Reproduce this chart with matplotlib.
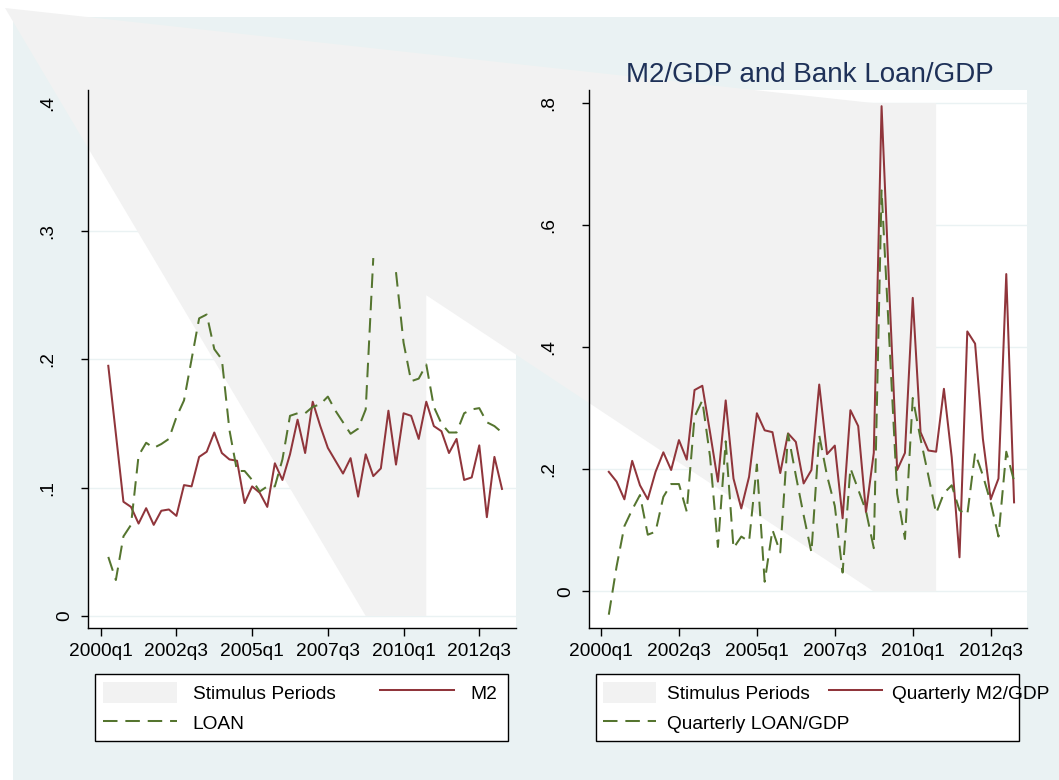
import numpy as np
import pandas as pd
import matplotlib
matplotlib.use("Agg")
import matplotlib.pyplot as plt
from matplotlib.patches import Polygon, Rectangle, Patch
from matplotlib.lines import Line2D
from matplotlib.transforms import ScaledTranslation

plt.rcParams['font.family'] = ['Liberation Sans', 'DejaVu Sans']

# quarterly data, 2000q2 .. 2013q2
quarters = [str(p).lower() for p in pd.period_range("2000Q2", "2013Q2", freq="Q")]

# left panel: growth rates
m2 = [0.195, 0.142, 0.089, 0.085, 0.072, 0.084, 0.071, 0.082, 0.083, 0.078,
      0.102, 0.101, 0.124, 0.128, 0.143, 0.127, 0.122, 0.121, 0.088, 0.101,
      0.096, 0.085, 0.119, 0.106, 0.126, 0.153, 0.127, 0.167, 0.148, 0.131,
      0.121, 0.111, 0.123, 0.093, 0.126, 0.109, 0.115, 0.160, 0.118, 0.158,
      0.156, 0.138, 0.167, 0.148, 0.144, 0.127, 0.138, 0.106, 0.108, 0.133,
      0.077, 0.124, 0.099]
loan = [0.046, 0.028, 0.062, 0.071, 0.125, 0.135, 0.131, 0.134, 0.138, 0.155,
        0.168, 0.200, 0.232, 0.235, 0.208, 0.200, 0.145, 0.113, 0.113, 0.106,
        0.097, 0.101, 0.101, 0.122, 0.156, 0.158, 0.158, 0.163, 0.165, 0.171,
        0.160, 0.151, 0.142, 0.146, 0.161, 0.279, np.nan, np.nan, 0.268, 0.213,
        0.183, 0.185, 0.196, 0.163, 0.150, 0.143, 0.143, 0.158, 0.161, 0.162,
        0.151, 0.148, 0.143]

# right panel: quarterly ratios
m2_gdp = [0.196, 0.180, 0.151, 0.214, 0.174, 0.151, 0.196, 0.228, 0.199, 0.248,
          0.216, 0.330, 0.337, 0.260, 0.180, 0.313, 0.185, 0.136, 0.188, 0.292,
          0.264, 0.261, 0.194, 0.259, 0.245, 0.177, 0.199, 0.339, 0.225, 0.239,
          0.120, 0.297, 0.271, 0.130, 0.227, 0.795, 0.490, 0.199, 0.227, 0.481,
          0.261, 0.231, 0.229, 0.332, 0.220, 0.056, 0.426, 0.406, 0.250, 0.151,
          0.185, 0.520, 0.146]
loan_gdp = [-0.038, 0.041, 0.107, 0.134, 0.158, 0.093, 0.098, 0.155, 0.176, 0.176,
            0.131, 0.286, 0.313, 0.220, 0.073, 0.246, 0.071, 0.090, 0.082, 0.208,
            0.016, 0.101, 0.064, 0.258, 0.190, 0.125, 0.064, 0.256, 0.190, 0.140,
            0.031, 0.202, 0.167, 0.132, 0.071, 0.657, 0.410, 0.160, 0.086, 0.317,
            0.250, 0.190, 0.128, 0.161, 0.174, 0.133, 0.126, 0.227, 0.190, 0.146,
            0.090, 0.229, 0.181]

xtick_labels = ["2000q1", "2002q3", "2005q1", "2007q3", "2010q1", "2012q3"]
left_yticks = [0, 0.1, 0.2, 0.3, 0.4]
left_ylabels = ["0", ".1", ".2", ".3", ".4"]
right_yticks = [0, 0.2, 0.4, 0.6, 0.8]
right_ylabels = ["0", ".2", ".4", ".6", ".8"]

stim_start, stim_end = "2008q4", "2010q4"
stim_top_left = 0.25
stim_top_right = 0.8


def qpos(label):
    return (int(label[:4]) - 2000) * 4 + int(label[-1]) - 1


x = [qpos(q) for q in quarters]

RED = "#90353B"
GREEN = "#55752F"
SHADE = "#F2F2F2"
BG = "#EAF2F3"
FS = 13.8

W, H = 1059, 780
fig = plt.figure(figsize=(W / 100, H / 100), dpi=100)
fig.patch.set_facecolor("white")
fig.add_artist(Rectangle((13 / W, 0), 1 - 13 / W, 1 - 17 / H, transform=fig.transFigure,
                         facecolor=BG, edgecolor="none", zorder=-1))

axl = fig.add_axes([88 / W, 1 - 628 / H, 428 / W, 538 / H])
axr = fig.add_axes([589 / W, 1 - 628 / H, 438 / W, 538 / H])

panels = [
    (axl, m2, loan, left_yticks, left_ylabels, (-1.68, 54.85), (-0.0094, 0.410)),
    (axr, m2_gdp, loan_gdp, right_yticks, right_ylabels, (-1.54, 54.66), (-0.0598, 0.8215)),
]

for ax, red, green, yt, yl, xl, ylim in panels:
    ax.set_facecolor("white")
    ax.set_axisbelow(True)
    ax.plot(x, red, color=RED, lw=1.45, zorder=2)
    ax.plot(x, green, color=GREEN, lw=1.45, ls=(0, (7.2, 3.9)), zorder=2.1)
    ax.set_xlim(*xl)
    ax.set_ylim(*ylim)
    ax.set_xticks([qpos(t) for t in xtick_labels])
    ax.set_xticklabels(xtick_labels, fontsize=FS)
    ax.set_yticks(yt)
    ax.set_yticklabels([])
    ax.grid(axis="y", color=BG, lw=1.0)
    ax.grid(axis="x", visible=False)
    ax.tick_params(axis="x", length=6, width=1, pad=5)
    ax.tick_params(axis="y", length=5, width=1)
    for s in ["top", "right"]:
        ax.spines[s].set_visible(False)
    for s in ["left", "bottom"]:
        ax.spines[s].set_linewidth(1.0)
    for v, lab in zip(yt, yl):
        dx = 16.9 if lab == "0" else 28.8
        tr = ax.get_yaxis_transform() + ScaledTranslation(-dx / 72, 0, fig.dpi_scale_trans)
        ax.text(0, v, lab, transform=tr, rotation=90, ha="center", va="center",
                fontsize=FS, clip_on=False)

# stimulus shading (rendered as one stretched polygon, as in the original)
s0, s1 = qpos(stim_start), qpos(stim_end)
inv = fig.transFigure.inverted()


def to_fig(ax, px, py):
    return inv.transform(ax.transData.transform((px, py)))


verts = [(5 / W, 1 - 8 / H),
         to_fig(axr, s0, stim_top_right), to_fig(axr, s1, stim_top_right),
         to_fig(axr, s1, 0), to_fig(axr, s0, 0),
         to_fig(axl, s1, stim_top_left), to_fig(axl, s1, 0), to_fig(axl, s0, 0)]

pl = Polygon(verts, closed=True, transform=fig.transFigure, facecolor=SHADE,
             edgecolor="none", zorder=1)
axl.add_artist(pl)
pl.set_clip_on(False)
pr = Polygon(verts, closed=True, transform=fig.transFigure, facecolor=SHADE,
             edgecolor="none", zorder=1)
axr.add_artist(pr)

# legends
patch_h = Patch(facecolor=SHADE, edgecolor="none")
red_h = Line2D([], [], color=RED, lw=1.45)
green_h = Line2D([], [], color=GREEN, lw=1.45, ls=(0, (7.2, 3.9)))

legend_specs = [
    (103, 95, 413, ["Stimulus Periods", "M2"], "LOAN", 3.85, 0.83, 2.34),
    (603, 596, 423, ["Stimulus Periods", "Quarterly M2/GDP"], "Quarterly LOAN/GDP", 2.76, 0.57, 0.99),
]
for hx, bx, bw, row1, row2, hl, htp, cs in legend_specs:
    fig.add_artist(Rectangle((bx / W, 1 - 741 / H), bw / W, 67 / H, transform=fig.transFigure,
                             facecolor="white", edgecolor="black", lw=1.0, zorder=4))
    common = dict(loc="center left", frameon=False, borderpad=0, borderaxespad=0,
                  handlelength=hl, handletextpad=htp, columnspacing=cs,
                  handleheight=1.31, fontsize=FS)
    fig.legend([patch_h, red_h], row1, ncol=2, bbox_to_anchor=(hx / W, 1 - 692.5 / H), **common)
    fig.legend([green_h], [row2], bbox_to_anchor=(hx / W, 1 - 723 / H), **common)

fig.text(809.5 / W, 1 - 81.7 / H, "M2/GDP and Bank Loan/GDP", ha="center", va="baseline",
         fontsize=20, color="#1E3158")

fig.savefig("out.png", dpi=100)
